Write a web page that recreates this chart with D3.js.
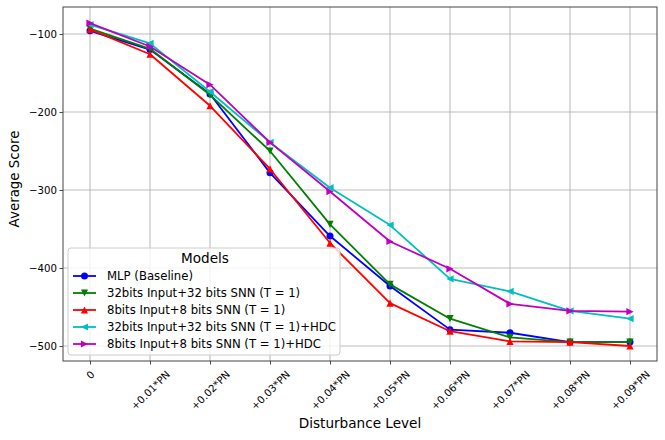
<!DOCTYPE html>
<html><head><meta charset="utf-8">
<script src="https://cdn.jsdelivr.net/npm/d3@7"></script>
<style>body{margin:0;background:#fff}svg{display:block;font-family:"DejaVu Sans",sans-serif}</style>
</head><body><svg id="c" width="665" height="440"></svg>
<script>
const xLabels = ["0","+0.01*PN","+0.02*PN","+0.03*PN","+0.04*PN","+0.05*PN","+0.06*PN","+0.07*PN","+0.08*PN","+0.09*PN"];
const yTicks = [-100,-200,-300,-400,-500];
const seriesNames = ["MLP (Baseline)","32bits Input+32 bits SNN (T = 1)","8bits Input+8 bits SNN (T = 1)","32bits Input+32 bits SNN (T = 1)+HDC","8bits Input+8 bits SNN (T = 1)+HDC"];
const mlp   = [-96,-120,-177,-278,-359,-423,-479,-483,-495,-495];
const snn32 = [-93,-119,-178,-250,-344,-421,-465,-489,-495,-495];
const snn8  = [-94,-126,-192,-273,-368,-445,-481,-494,-495,-500];
const hdc32 = [-88,-112,-174,-239,-297,-345,-414,-430,-455,-465];
const hdc8  = [-86,-116,-165,-239,-302,-366,-401,-446,-455,-456];
const colors = ["#0000ff","#008000","#ff0000","#00bfbf","#bf00bf"];
const markers = ["circle","down","up","left","right"];
const allSeries = [mlp,snn32,snn8,hdc32,hdc8];

const svg = d3.select("#c");
const L=63,R=657,T=7,B=361;
const x = d3.scaleLinear().domain([-0.45,9.45]).range([L,R]);
const y = d3.scaleLinear().domain([-519.2,-65.4]).range([B,T]);

// grid
const g = svg.append("g");
g.selectAll(".hg").data(yTicks).join("line").attr("x1",L).attr("x2",R)
 .attr("y1",d=>y(d)).attr("y2",d=>y(d)).attr("stroke","#d3d3d3").attr("stroke-width",1.3);
g.selectAll(".vg").data(d3.range(xLabels.length)).join("line").attr("y1",T).attr("y2",B)
 .attr("x1",d=>x(d)).attr("x2",d=>x(d)).attr("stroke","#b8b8b8").attr("stroke-width",1);

// axes
const xfs = 10.2;
const xa = svg.append("g").attr("transform",`translate(0,${B})`)
 .call(d3.axisBottom(x).tickValues(d3.range(xLabels.length)).tickFormat(i=>xLabels[i]).tickSize(3.5).tickSizeOuter(0));
xa.select(".domain").remove();
xa.selectAll(".tick line").attr("stroke","#333").attr("stroke-width",0.9);
xa.selectAll(".tick text").attr("y",null).attr("dy",null).attr("text-anchor","middle")
 .attr("dominant-baseline","central").attr("font-size",xfs).attr("fill","#000")
 .attr("font-family","DejaVu Sans")
 .each(function(){
   const w = this.getComputedTextLength();
   const h = 0.73*xfs;
   const cy = 370 + (w+h)*0.3536 - B;
   d3.select(this).attr("transform",`translate(0,${cy}) rotate(-45)`);
 });
const ya = svg.append("g").attr("transform",`translate(${L},0)`)
 .call(d3.axisLeft(y).tickValues(yTicks).tickFormat(d=>"\u2212"+Math.abs(d)).tickSize(3.5).tickSizeOuter(0));
ya.select(".domain").remove();
ya.selectAll(".tick line").attr("stroke","#333").attr("stroke-width",0.9);
ya.selectAll(".tick text").attr("font-size",10.2).attr("fill","#000").attr("font-family","DejaVu Sans").attr("x",-6);

svg.append("rect").attr("x",L).attr("y",T).attr("width",R-L).attr("height",B-T)
 .attr("fill","none").attr("stroke","#444").attr("stroke-width",1);

function markerPath(type,s){
  if(type==="circle") return d3.symbol(d3.symbolCircle, Math.PI*s*s)();
  if(type==="up") return `M0,${-s}L${-s},${s}L${s},${s}Z`;
  if(type==="down") return `M0,${s}L${-s},${-s}L${s},${-s}Z`;
  if(type==="left") return `M${-s},0L${s},${-s}L${s},${s}Z`;
  return `M${s},0L${-s},${-s}L${-s},${s}Z`;
}
const ms = 3.6;
const line = d3.line().x((d,i)=>x(i)).y(d=>y(d));
const plot = svg.append("g");
allSeries.forEach((vals,k)=>{
  plot.append("path").datum(vals).attr("d",line).attr("fill","none")
   .attr("stroke",colors[k]).attr("stroke-width",1.8).attr("stroke-linejoin","round");
  plot.selectAll(null).data(vals).join("path")
   .attr("transform",(d,i)=>`translate(${x(i)},${y(d)})`)
   .attr("d",markerPath(markers[k], k===0?3.5:ms)).attr("fill",colors[k]);
});

// legend
const lg = svg.append("g");
lg.append("rect").attr("x",68).attr("y",248).attr("width",272).attr("height",107)
 .attr("rx",3).attr("fill","#fff").attr("fill-opacity",0.8).attr("stroke","#cccccc").attr("stroke-width",1);
lg.append("text").attr("x",205).attr("y",258).attr("text-anchor","middle").attr("dominant-baseline","central")
 .attr("font-size",13.6).text("Models");
seriesNames.forEach((n,k)=>{
  const yy = 276 + k*17;
  lg.append("line").attr("x1",73).attr("x2",96).attr("y1",yy).attr("y2",yy)
   .attr("stroke",colors[k]).attr("stroke-width",1.8);
  lg.append("path").attr("transform",`translate(84.5,${yy})`).attr("d",markerPath(markers[k], k===0?3.5:ms)).attr("fill",colors[k]);
  lg.append("text").attr("x",107).attr("y",yy).attr("dominant-baseline","central").attr("font-size",11.7).text(n);
});

// axis titles
svg.append("text").attr("x",360).attr("y",423).attr("text-anchor","middle").attr("dominant-baseline","central")
 .attr("font-size",13.6).text("Disturbance Level");
svg.append("text").attr("transform","translate(14,179) rotate(-90)").attr("text-anchor","middle")
 .attr("dominant-baseline","central").attr("font-size",13.4).text("Average Score");
</script></body></html>
